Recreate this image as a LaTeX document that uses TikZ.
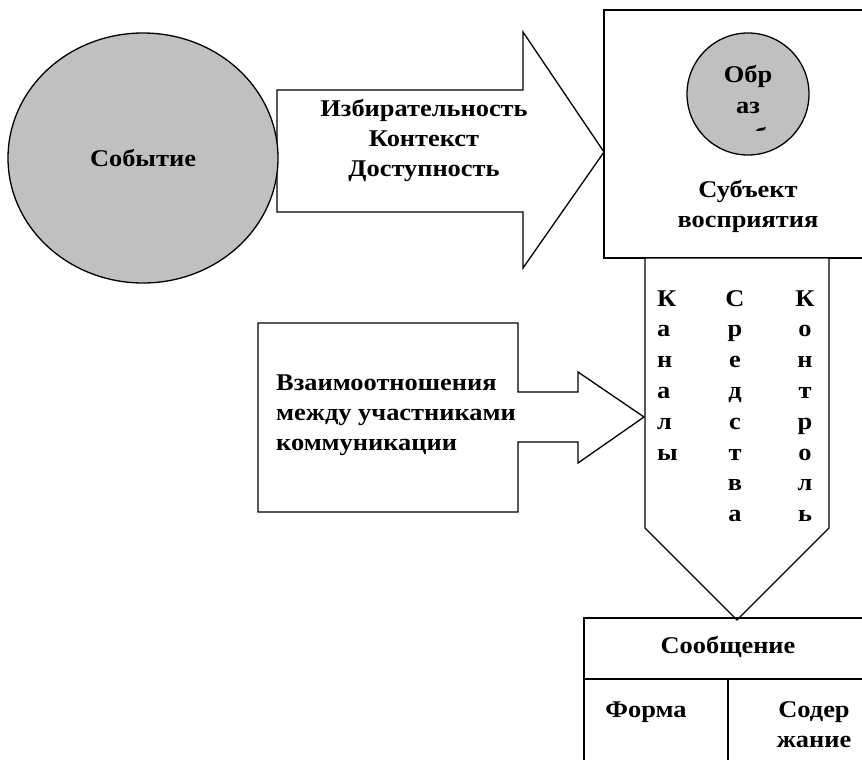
\documentclass[tikz,border=0pt]{standalone}
\usepackage{fontspec}
\setmainfont{Liberation Serif}[FakeStretch=1.1]
\begin{document}
\begin{tikzpicture}[x=1pt,y=-1pt,
  shp/.style={draw=black,line width=1.3pt,line join=miter},
  lbl/.style={font=\fontsize{24}{30}\selectfont\bfseries,inner sep=0pt,align=center},
  lett/.style={font=\fontsize{24}{30}\selectfont\bfseries,inner sep=0pt,anchor=base}]
\useasboundingbox (0,0) rectangle (862,760);
\clip (0,0) rectangle (862,760);
\definecolor{silver}{RGB}{192,192,192}
% big arrow
\draw[shp,fill=white] (277,90) -- (523,90) -- (523,32) -- (604,152) -- (523,268) -- (523,212) -- (277,212) -- cycle;
% event ellipse
\draw[shp,fill=silver] (143,158) ellipse [x radius=135,y radius=125];
\node[lbl] (event) at (143,158) {Событие};
\node[lbl] (factors) at (424,140) {Избирательность\\Контекст\\Доступность};
% subject box
\draw[shp,fill=white] (604,10) rectangle (880,258);
\draw[shp,fill=silver] (748,94) circle [radius=61];
\begin{scope}
\clip (680,40) rectangle (820,130);
\node[lett] (img1) at (748,82) {Обр};
\node[lett] (img2) at (748,113) {аз};
\node[lett] (img3) at (748,144) {соб};
\end{scope}
\node[lbl] (subject) at (748,206) {Субъект\\восприятия};
% down arrow
\draw[shp,fill=white] (645,258) -- (829,258) -- (829,528) -- (737,620) -- (645,528) -- cycle;
\foreach \ch [count=\i] in {К,а,н,а,л,ы}
  \node[lett,anchor=base west] (k\i) at (657,275.2+30.8*\i) {\ch};
\foreach \ch [count=\i] in {С,р,е,д,с,т,в,а}
  \node[lett] (s\i) at (735,275.2+30.8*\i) {\ch};
\foreach \ch [count=\i] in {К,о,н,т,р,о,л,ь}
  \node[lett] (c\i) at (805,275.2+30.8*\i) {\ch};
% callout
\draw[shp,fill=white] (258,323) -- (518,323) -- (518,392) -- (578,392) -- (578,372) -- (644,417) -- (578,463) -- (578,442) -- (518,442) -- (518,512) -- (258,512) -- cycle;
\node[lbl,align=left,anchor=west] (rel) at (276,415) {Взаимоотношения\\между участниками\\коммуникации};
% message table
\draw[shp] (584,618) rectangle (880,780);
\draw[shp] (584,679) -- (880,679);
\draw[shp] (728,679) -- (728,780);
\node[lett] (msg) at (728,653) {Сообщение};
\node[lett] (form) at (646,717) {Форма};
\node[lett] (content1) at (814,717) {Содер};
\node[lett] (content2) at (814,747) {жание};
\end{tikzpicture}
\end{document}
